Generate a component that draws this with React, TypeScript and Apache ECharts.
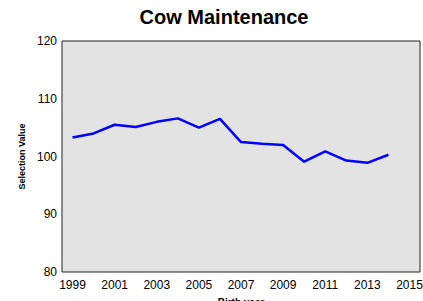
import React, { useEffect, useRef } from "react";
import * as echarts from "echarts";

const years = ["1999","2000","2001","2002","2003","2004","2005","2006","2007","2008","2009","2010","2011","2012","2013","2014","2015"];
const values = [103.3, 104.0, 105.5, 105.1, 106.0, 106.6, 105.0, 106.5, 102.5, 102.2, 102.0, 99.1, 100.9, 99.3, 98.9, 100.3];

export default function App() {
  const ref = useRef<HTMLDivElement>(null);
  useEffect(() => {
    const chart = echarts.init(ref.current!, null, { renderer: "svg" });
    chart.setOption({
      animation: false,
      title: {
        text: "Cow Maintenance",
        left: 219,
        top: 2,
        textAlign: "center",
        textStyle: { fontFamily: "Liberation Sans", fontSize: 20, fontWeight: "bold", color: "#000" },
      },
      grid: {
        left: 62, right: 3, top: 41, bottom: 29,
        outerBoundsMode: "none",
        containLabel: false,
        show: true, backgroundColor: "#e3e3e3", borderColor: "#222", borderWidth: 1,
      },
      xAxis: {
        type: "category",
        data: years,
        boundaryGap: true,
        name: "Birth year",
        nameLocation: "middle",
        nameGap: 25,
        nameTextStyle: { fontFamily: "Liberation Sans", fontSize: 10, fontWeight: "bold", color: "#000" },
        axisLine: { show: false },
        axisTick: { show: false },
        axisLabel: { interval: 1, margin: 7, fontFamily: "Liberation Sans", fontSize: 12, color: "#000" },
        splitLine: { show: false },
      },
      yAxis: {
        type: "value",
        min: 80, max: 120, interval: 10,
        name: "Selection Value",
        nameLocation: "middle",
        nameGap: 32,
        nameTextStyle: { fontFamily: "Liberation Sans", fontSize: 9, fontWeight: "bold", color: "#000" },
        axisLine: { show: false },
        axisTick: { show: false },
        axisLabel: { margin: 5, fontFamily: "Liberation Sans", fontSize: 12, color: "#000" },
        splitLine: { show: false },
      },
      series: [{
        type: "line",
        data: values,
        symbol: "none",
        lineStyle: { color: "#0000ff", width: 2.5 },
      }],
    });
    return () => chart.dispose();
  }, []);
  return <div ref={ref} style={{ width: 423, height: 301, position: "absolute", left: 0, top: 0 }} />;
}
